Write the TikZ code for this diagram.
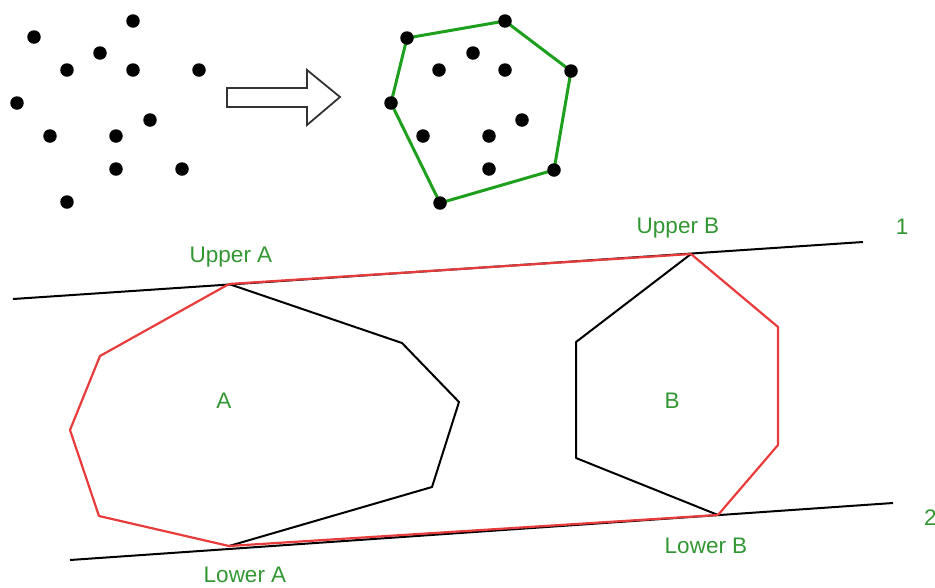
\documentclass[tikz,border=0pt]{standalone}
\usepackage{fontspec}
\setmainfont{Liberation Sans}
\definecolor{hullgreen}{RGB}{30,160,30}
\definecolor{labelgreen}{RGB}{50,150,50}
\definecolor{hullred}{RGB}{232,60,60}
\begin{document}
\begin{tikzpicture}[x=1pt,y=-1pt,
  pt/.style={circle,fill=black,inner sep=0pt,minimum size=13.5pt},
  lbl/.style={text=labelgreen,font=\fontsize{22.5}{26}\selectfont,inner sep=0pt},
  edge/.style={line width=2pt,black},
  redge/.style={line width=2.2pt,hullred},
  gedge/.style={line width=3pt,hullgreen}]
\useasboundingbox (0,0) rectangle (935,587);

% scattered input points
\foreach \n/\x/\y in {p1/133/21,p2/34/37,p3/100/53,p4/67/70,p5/133/70,p6/199/70,
  p7/17/103,p8/150/120,p9/50/136,p10/116/136,p11/116/169,p12/182/169,p13/67/202}
  \node[pt] (\n) at (\x,\y) {};

% block arrow
\draw[line width=1.8pt,black!80,fill=white,line join=miter]
  (227,88) -- (307,88) -- (307,70) -- (340,97) -- (307,125) -- (307,107) -- (227,107) -- cycle;

% hull vertices and interior points
\foreach \n/\x/\y in {h1/407/38,h2/505/21,h3/571/71,h4/554/170,h5/440/203,h6/391/103,
  q1/473/53,q2/439/70,q3/505/70,q4/522/120,q5/423/136,q6/489/136,q7/489/169}
  \coordinate (\n) at (\x,\y);
\draw[gedge,line join=round] (h1) -- (h2) -- (h3) -- (h4) -- (h5) -- (h6) -- cycle;
\foreach \n in {h1,h2,h3,h4,h5,h6,q1,q2,q3,q4,q5,q6,q7}
  \node[pt] at (\n) {};

% supporting lines
\coordinate (l1a) at (13,299);
\coordinate (l1b) at (863,242);
\coordinate (l2a) at (70,560);
\coordinate (l2b) at (893,503);
\draw[edge] (l1a) -- (l1b);
\draw[edge] (l2a) -- (l2b);

% polygon A
\coordinate (UA) at (229,284);
\coordinate (a1) at (100,356);
\coordinate (a2) at (70,430);
\coordinate (a3) at (99,516);
\coordinate (LA) at (229,546);
\coordinate (a4) at (432,487);
\coordinate (a5) at (459,402);
\coordinate (a6) at (402,343);
\draw[edge,line join=round] (UA) -- (a6) -- (a5) -- (a4) -- (LA);
\draw[redge,line join=round] (UA) -- (a1) -- (a2) -- (a3) -- (LA);

% polygon B
\coordinate (UB) at (691,254);
\coordinate (b1) at (778,327);
\coordinate (b2) at (778,445);
\coordinate (LB) at (718,515);
\coordinate (b3) at (576,458);
\coordinate (b4) at (576,342);
\draw[edge,line join=round] (UB) -- (b4) -- (b3) -- (LB);
\draw[redge,line join=round] (UB) -- (b1) -- (b2) -- (LB);

% bridges along the supporting lines
\draw[redge] (UA) -- (UB);
\draw[redge] (LA) -- (LB);

% labels
\node[lbl] (tUA) at (231,257) {Upper A};
\node[lbl] (tA) at (224,401) {A};
\node[lbl] (tLA) at (245,575) {Lower A};
\node[lbl] (tUB) at (678,228) {Upper B};
\node[lbl] (tB) at (672,401) {B};
\node[lbl] (tLB) at (706,546) {Lower B};
\node[lbl] (t1) at (902,227) {1};
\node[lbl,anchor=west] (t2) at (924,518) {2};
\end{tikzpicture}
\end{document}
